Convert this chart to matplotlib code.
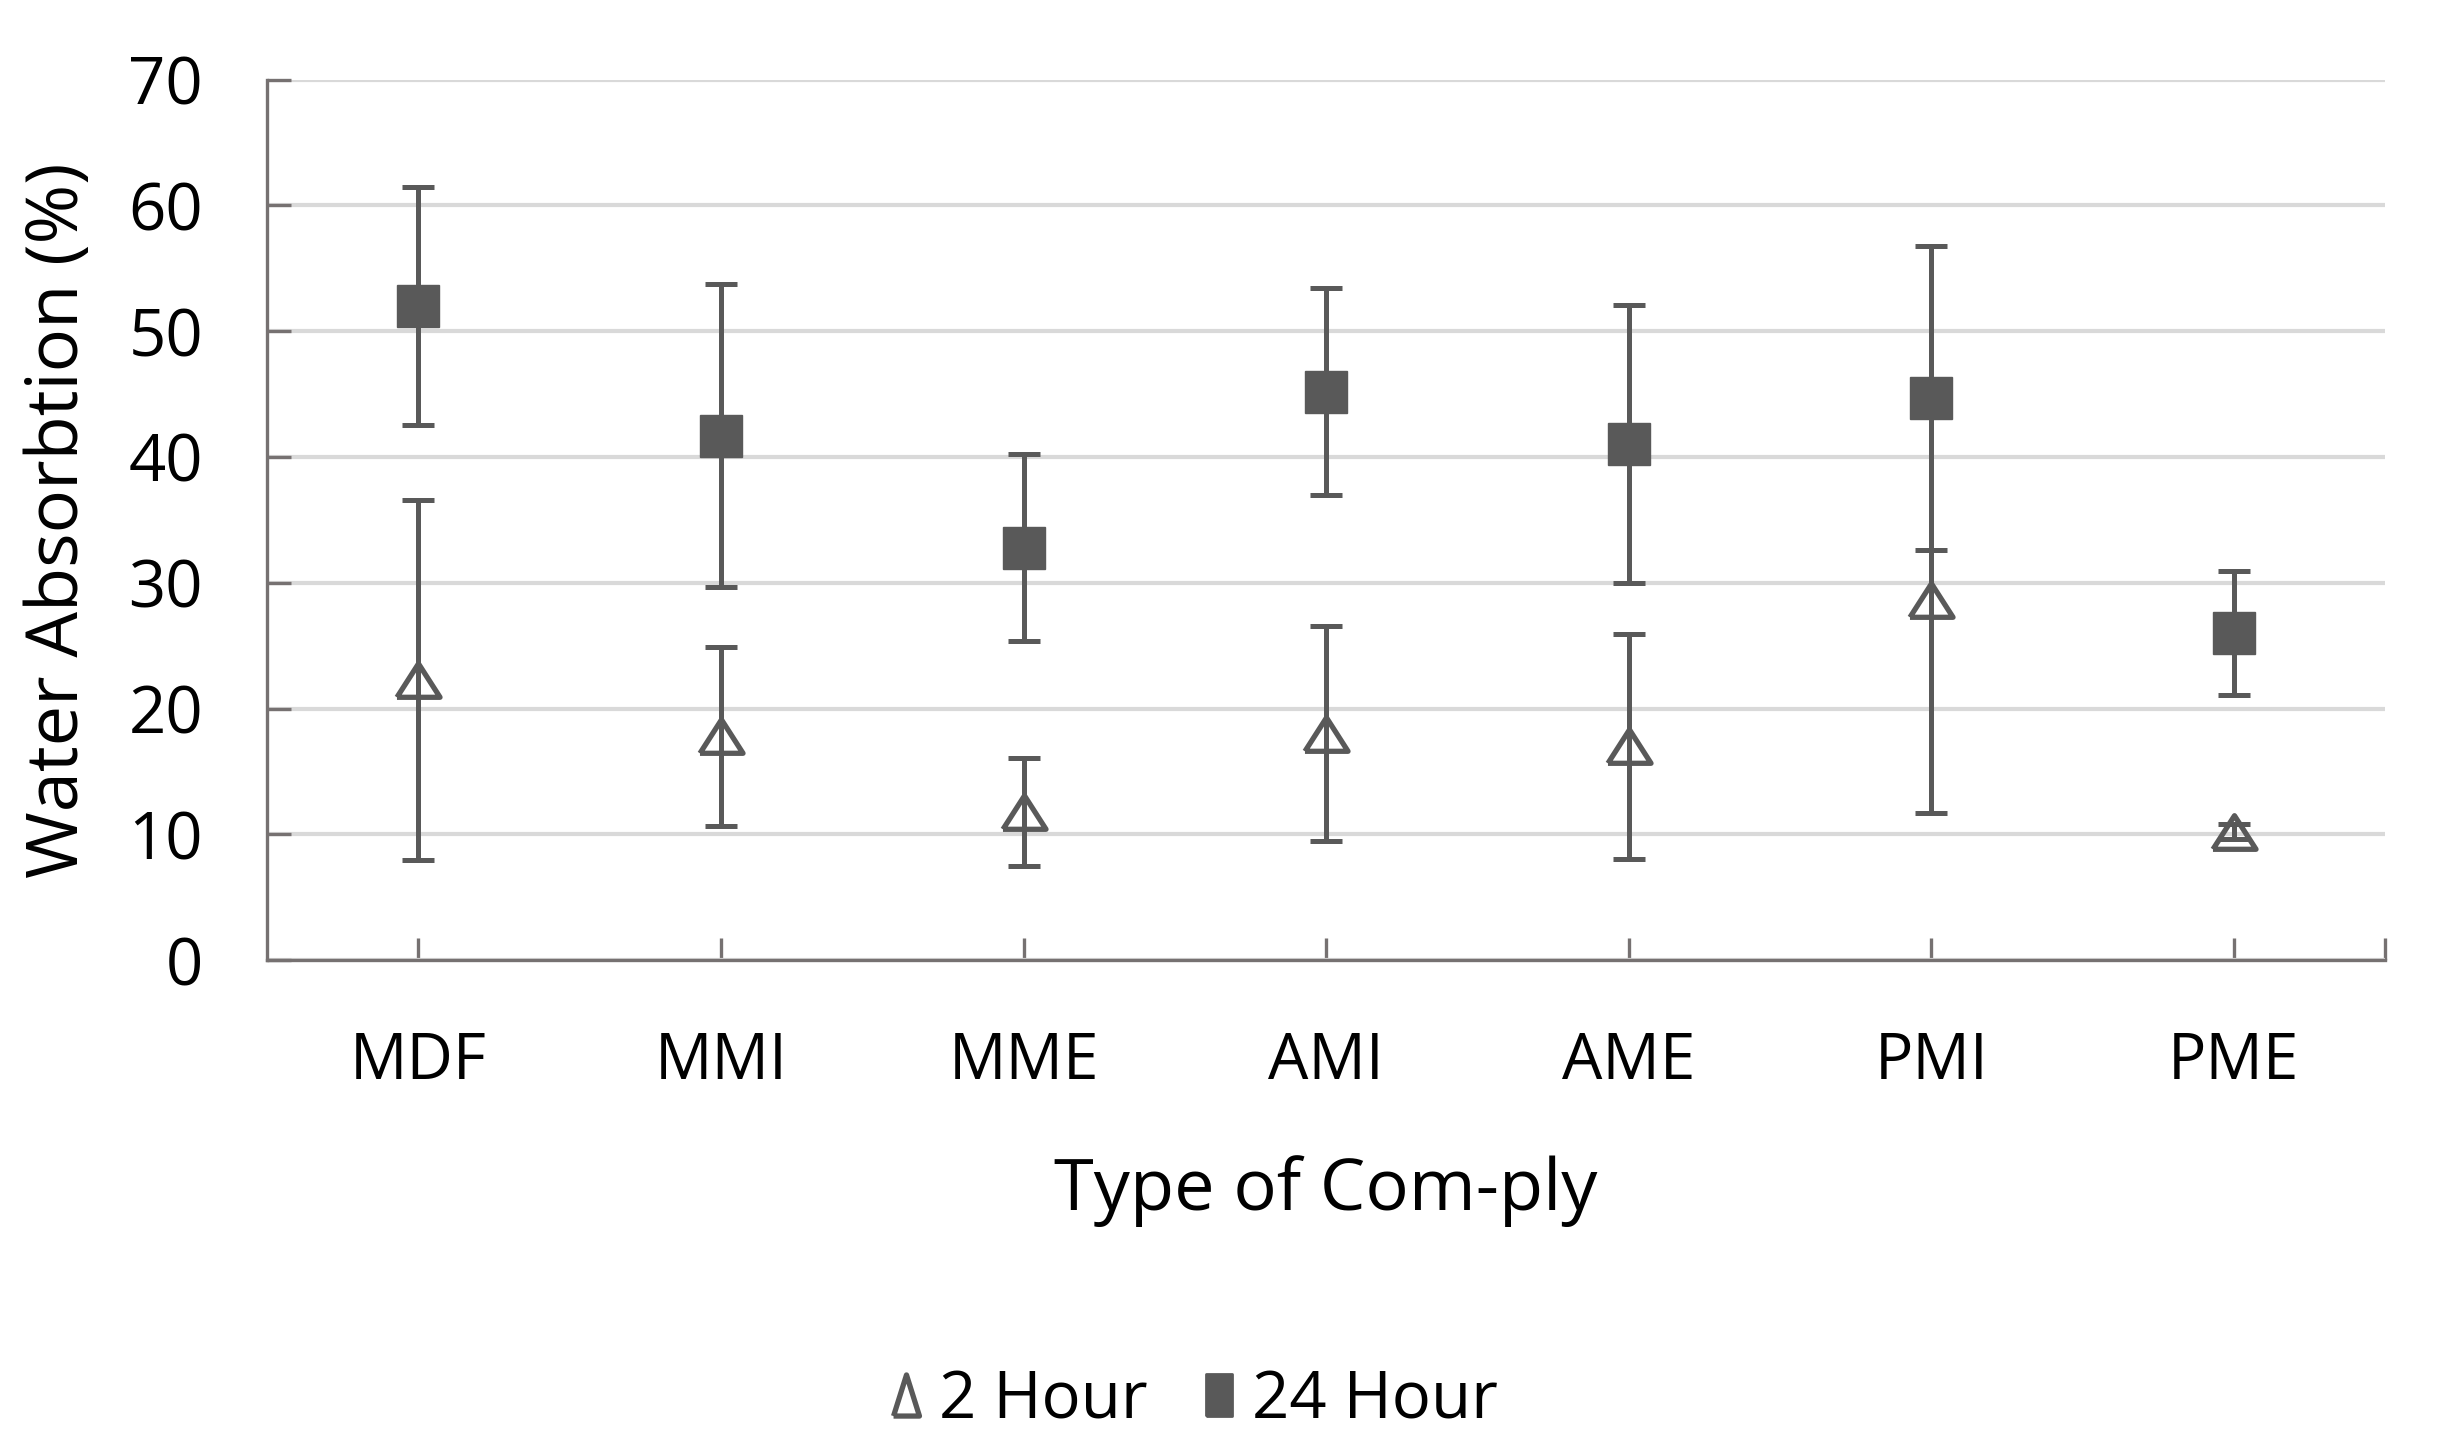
import matplotlib
matplotlib.use("Agg")
import matplotlib.pyplot as plt
from matplotlib.lines import Line2D
import numpy as np

# values
categories = ["MDF", "MMI", "MME", "AMI", "AME", "PMI", "PME"]
hour2_mean = [22.3, 17.8, 11.8, 18.0, 17.0, 28.6, 10.2]
hour2_sd = [14.3, 7.1, 4.3, 8.55, 8.95, 16.9, 0.6]
hour24_mean = [52.0, 41.7, 32.8, 45.2, 41.0, 44.7, 26.0]
hour24_sd = [9.45, 12.05, 7.4, 8.2, 11.05, 12.1, 4.9]
y_ticks = [0, 10, 20, 30, 40, 50, 60, 70]

plt.rcParams["font.family"] = ["Open Sans", "DejaVu Sans"]

DARK = "#595959"
AXIS = "#767171"
GRID = "#d9d9d9"

# wide, flat open triangle like the Excel marker
tri_marker = [(-1.0, -0.78), (1.0, -0.78), (0.0, 0.78), (-1.0, -0.78)]
# tall legend symbols
tri_legend = [(-0.63, -1.0), (0.63, -1.0), (0.0, 1.0), (-0.63, -1.0)]
sq_legend = [(-0.63, -1.0), (0.63, -1.0), (0.63, 1.0), (-0.63, 1.0), (-0.63, -1.0)]

fig = plt.figure(figsize=(12.32, 7.23), dpi=200, facecolor="white")
ax = fig.add_axes([0.1084, 0.336, 0.8596, 0.609])

x = np.arange(len(categories))

ax.errorbar(x, hour2_mean, yerr=hour2_sd, fmt="none", ecolor=DARK,
            elinewidth=1.8, capsize=5.8, capthick=1.8, zorder=3)
ax.plot(x, hour2_mean, linestyle="none", marker=tri_marker, markersize=15.5,
        markerfacecolor="none", markeredgecolor=DARK, markeredgewidth=1.9,
        zorder=4)
ax.errorbar(x, hour24_mean, yerr=hour24_sd, fmt="none", ecolor=DARK,
            elinewidth=1.8, capsize=5.8, capthick=1.8, zorder=5)
ax.plot(x, hour24_mean, linestyle="none", marker="s", markersize=14.8,
        markerfacecolor=DARK, markeredgecolor=DARK, markeredgewidth=0.5,
        zorder=6)

ax.set_xlim(-0.5, len(categories) - 0.5)
ax.set_ylim(0, 70)
ax.set_yticks(y_ticks)
ax.set_xticks(x)
ax.set_xticklabels(categories)
ax.set_xticks([len(categories) - 0.5], minor=True)

ax.yaxis.grid(True, color=GRID, linewidth=1.5)
ax.set_axisbelow(True)
for side in ["top", "right"]:
    ax.spines[side].set_visible(False)
for side in ["left", "bottom"]:
    ax.spines[side].set_color(AXIS)
    ax.spines[side].set_linewidth(1.2)

ax.tick_params(axis="y", direction="in", length=8.6, width=1.2, color=AXIS,
               labelsize=23.5, pad=23)
ax.tick_params(axis="x", which="both", direction="in", length=8, width=1.2,
               color=AXIS, labelsize=23, pad=25)

ax.set_xlabel("Type of Com-ply", fontsize=26, labelpad=22)
ax.set_ylabel("Water Absorbtion (%)", fontsize=26, labelpad=12)

handles = [
    Line2D([], [], linestyle="none", marker=tri_legend, markersize=14.8,
           markerfacecolor="none", markeredgecolor=DARK, markeredgewidth=1.9),
    Line2D([], [], linestyle="none", marker=sq_legend, markersize=14.8,
           markerfacecolor=DARK, markeredgecolor=DARK),
]
fig.legend(handles, ["2 Hour", "24 Hour"], loc="center",
           bbox_to_anchor=(0.4846, 0.031), ncol=2, frameon=False,
           fontsize=23.5, handlelength=0.5, handletextpad=0.25,
           columnspacing=0.85)

fig.savefig("out.png", dpi=200, facecolor="white")
